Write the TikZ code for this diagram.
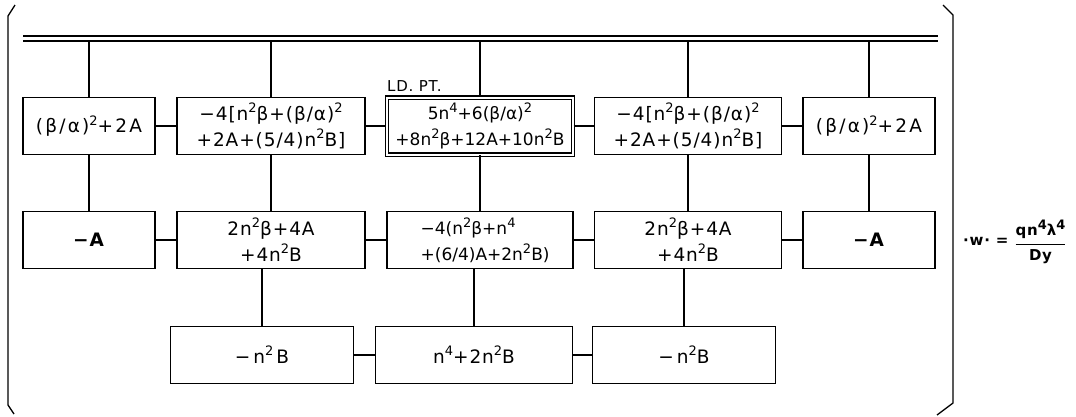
\documentclass[tikz,border=0pt]{standalone}
\usepackage{amsmath}
\usepackage{fontspec}
\usepackage{graphicx}
\setmainfont{DejaVu Sans}[LetterSpace=5]
\newfontfamily\widefont{DejaVu Sans}[LetterSpace=12]
\newfontfamily\tightfont{DejaVu Sans}[LetterSpace=0]
\newcommand\ssup[1]{\raisebox{0.42em}{\fontsize{13}{13}\selectfont #1}}
\begin{document}
\begin{tikzpicture}[x=1pt,y=-1pt,
  cell/.style={draw,line width=1.4pt,inner sep=0pt,minimum height=57pt,align=center,
    font=\fontsize{18.5}{26}\selectfont},
  conn/.style={line width=1.3pt},
  brk/.style={line width=1.3pt,line join=round}]
\useasboundingbox[fill=white] (0,0) rectangle (1076,416);
% bracket
\draw[brk] (15,5) -- (8,16) -- (8,405) -- (14,414);
\draw[brk] (943,5) -- (953,15) -- (953,403) -- (937,415);
% double line
\coordinate (dlA) at (23,36);
\coordinate (dlB) at (938,36);
\coordinate (dlC) at (23,41);
\coordinate (dlD) at (938,41);
\draw[conn] (dlA) -- (dlB);
\draw[conn] (dlC) -- (dlD);
% row 1
\node[cell,minimum width=132pt,font=\widefont\fontsize{18.5}{26}\selectfont] (a1) at (89,126) {(β/α)\ssup{2}+2A};
\node[cell,minimum width=188pt] (a2) at (271,126) {−4[n\ssup{2}β+(β/α)\ssup{2}\\+2A+(5/4)n\ssup{2}B]};
\node[cell,minimum width=186pt,double,double distance=2pt,line width=1.3pt,font=\tightfont\fontsize{17}{26}\selectfont] (a3) at (480,126) {5n\ssup{4}+6(β/α)\ssup{2}\\+8n\ssup{2}β+12A+10n\ssup{2}B};
\node[cell,minimum width=187pt] (a4) at (688,126) {−4[n\ssup{2}β+(β/α)\ssup{2}\\+2A+(5/4)n\ssup{2}B]};
\node[cell,minimum width=132pt,font=\widefont\fontsize{18.5}{26}\selectfont] (a5) at (869,126) {(β/α)\ssup{2}+2A};
\node[anchor=south west,inner sep=0pt,font=\fontsize{15}{15}\selectfont] (ld) at (387,92) {LD. PT.};
% row 2
\node[cell,minimum width=132pt] (b1) at (89,240) {\textbf{−A}};
\node[cell,minimum width=188pt] (b2) at (271,240) {2n\ssup{2}β+4A\\+4n\ssup{2}B};
\node[cell,minimum width=186pt,align=left,font=\tightfont\fontsize{17}{26}\selectfont] (b3) at (480,240) {\hspace*{0.6em}−4(n\ssup{2}β+n\ssup{4}\\\hspace*{0.6em}+(6/4)A+2n\ssup{2}B)};
\node[cell,minimum width=187pt] (b4) at (688,240) {2n\ssup{2}β+4A\\+4n\ssup{2}B};
\node[cell,minimum width=132pt] (b5) at (869,240) {\textbf{−A}};
% row 3
\node[cell,minimum width=183pt] (c1) at (262,355) {−\,n\ssup{2}\,B};
\node[cell,minimum width=197pt] (c2) at (474,355) {n\ssup{4}+2n\ssup{2}B};
\node[cell,minimum width=183pt] (c3) at (684,355) {−\,n\ssup{2}B};
% equation
\node[anchor=west,inner sep=0pt,font=\fontsize{15}{15}\bfseries\selectfont] (eq) at (963,242)
  {·w· = \raisebox{-0.35ex}{$\genfrac{}{}{1.6pt}{0}{\mbox{qn\ssup{4}λ\ssup{4}}}{\mbox{Dy}}$}};
% verticals from double line
\foreach \n in {a1,a2,a3,a4,a5} \draw[conn] (\n.north) -- (\n.north |- dlC);
% row1 horizontals
\draw[conn] (a1) -- (a2);
\draw[conn] (a2) -- (a3);
\draw[conn] (a3) -- (a4);
\draw[conn] (a4) -- (a5);
% row1-row2 verticals
\draw[conn] (a1) -- (b1);
\draw[conn] (a2) -- (b2);
\draw[conn] (a3) -- (b3);
\draw[conn] (a4) -- (b4);
\draw[conn] (a5) -- (b5);
% row2 horizontals
\draw[conn] (b1) -- (b2);
\draw[conn] (b2) -- (b3);
\draw[conn] (b3) -- (b4);
\draw[conn] (b4) -- (b5);
% row2-row3 verticals
\draw[conn] (c1.north) -- (c1.north |- b2.south);
\draw[conn] (c2.north) -- (c2.north |- b3.south);
\draw[conn] (c3.north) -- (c3.north |- b4.south);
% row3 horizontals
\draw[conn] (c1) -- (c2);
\draw[conn] (c2) -- (c3);
\end{tikzpicture}
\end{document}
